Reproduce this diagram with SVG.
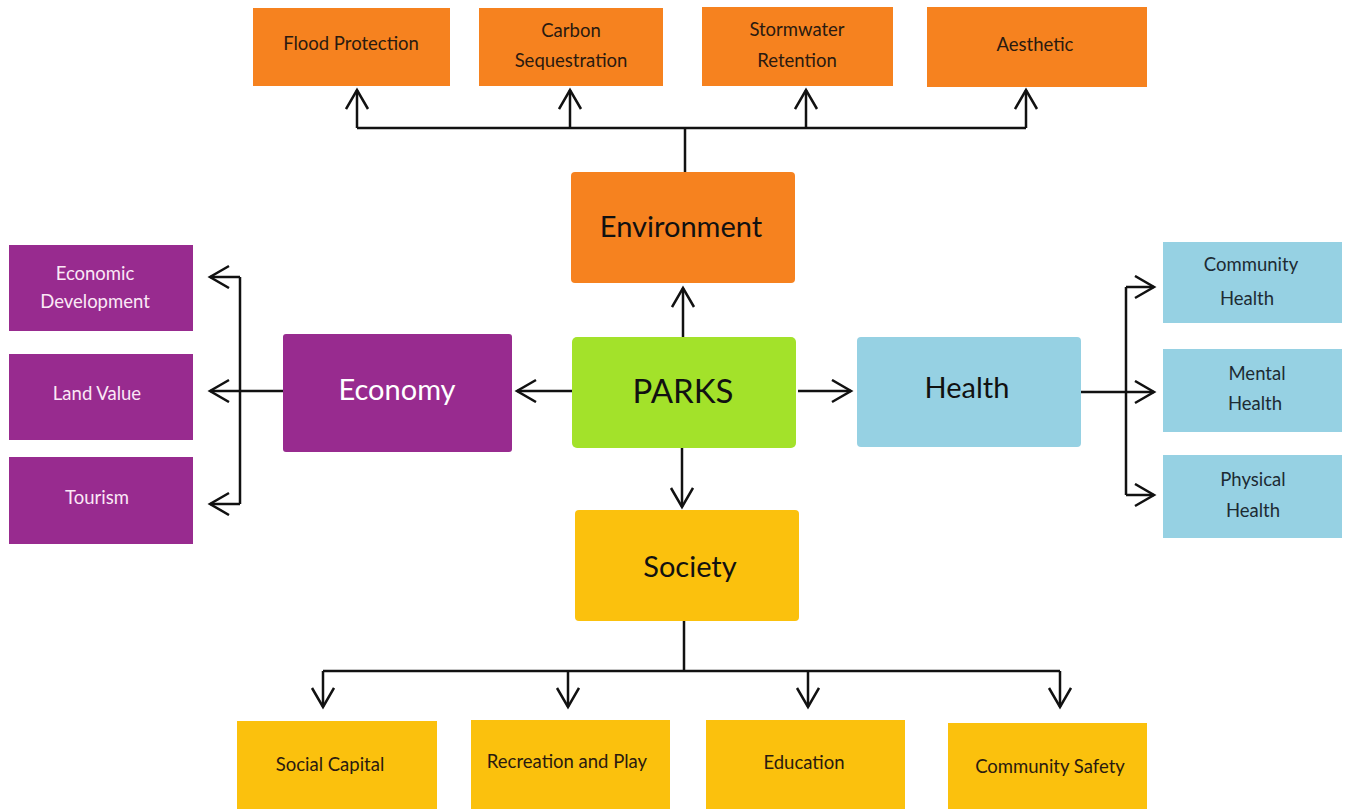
<svg xmlns="http://www.w3.org/2000/svg" width="1351" height="809" viewBox="0 0 1351 809">
<defs>
<marker id="arr" markerUnits="userSpaceOnUse" markerWidth="24" markerHeight="26" refX="20" refY="12" orient="auto">
<path d="M1,1 L20,12 L1,23" fill="none" stroke="#111" stroke-width="2.5"/>
</marker>
<style>
.env{fill:#F6821F}
.eco{fill:#982B8F}
.hea{fill:#96D1E3}
.soc{fill:#FBC10D}
.prk{fill:#A3E22A}
text{font-family:"Lato","Open Sans","Liberation Sans",sans-serif;text-anchor:middle}
.s{font-size:18.5px;fill:#2a1a10}
.w{font-size:18.5px;fill:#fbe8f6}
.d{font-size:18.5px;fill:#1d2b33}
.big{font-size:29px;fill:#111}
.bigw{font-size:29px;fill:#fff}
.line{fill:none;stroke:#111;stroke-width:2.5}
</style>
</defs>
<rect width="1351" height="809" fill="#fff"/>
<g id="connectors">
<path class="line" d="M685,172 V128 M357,128 H1026"/>
<path class="line" d="M357,128 V90" marker-end="url(#arr)"/>
<path class="line" d="M570,128 V90" marker-end="url(#arr)"/>
<path class="line" d="M806,128 V90" marker-end="url(#arr)"/>
<path class="line" d="M1026,128 V90" marker-end="url(#arr)"/>
<path class="line" d="M683,337 V288" marker-end="url(#arr)"/>
<path class="line" d="M682,448 V507" marker-end="url(#arr)"/>
<path class="line" d="M798,391 H851" marker-end="url(#arr)"/>
<path class="line" d="M572,391 H517" marker-end="url(#arr)"/>
<path class="line" d="M283,391 H240 M240,277 V504"/>
<path class="line" d="M240,277 H210" marker-end="url(#arr)"/>
<path class="line" d="M240,391 H210" marker-end="url(#arr)"/>
<path class="line" d="M240,504 H210" marker-end="url(#arr)"/>
<path class="line" d="M1081,392 H1126 M1126,287 V495"/>
<path class="line" d="M1126,287 H1154" marker-end="url(#arr)"/>
<path class="line" d="M1126,392 H1154" marker-end="url(#arr)"/>
<path class="line" d="M1126,495 H1154" marker-end="url(#arr)"/>
<path class="line" d="M684,621 V671 M323,671 H1060"/>
<path class="line" d="M323,671 V707" marker-end="url(#arr)"/>
<path class="line" d="M568,671 V707" marker-end="url(#arr)"/>
<path class="line" d="M808,671 V707" marker-end="url(#arr)"/>
<path class="line" d="M1060,671 V707" marker-end="url(#arr)"/>
</g>
<g id="flood"><rect class="env" x="253" y="8" width="197" height="78"/><text class="s" x="351" y="50">Flood Protection</text></g>
<g id="carbon"><rect class="env" x="479" y="8" width="184" height="78"/><text class="s" x="571" y="37">Carbon</text><text class="s" x="571" y="67">Sequestration</text></g>
<g id="stormwater"><rect class="env" x="702" y="7" width="191" height="79"/><text class="s" x="797" y="36">Stormwater</text><text class="s" x="797" y="67">Retention</text></g>
<g id="aesthetic"><rect class="env" x="927" y="7" width="220" height="80"/><text class="s" x="1035" y="51">Aesthetic</text></g>
<g id="environment"><rect class="env" x="571" y="172" width="224" height="111" rx="4"/><text class="big" x="681" y="237">Environment</text></g>
<g id="parks"><rect class="prk" x="572" y="337" width="224" height="111" rx="5"/><text class="big" x="683" y="403" style="font-size:33px">PARKS</text></g>
<g id="economy"><rect class="eco" x="283" y="334" width="229" height="118" rx="3"/><text class="bigw" x="397" y="400">Economy</text></g>
<g id="health"><rect class="hea" x="857" y="337" width="224" height="110" rx="4"/><text class="big" x="967" y="398">Health</text></g>
<g id="society"><rect class="soc" x="575" y="510" width="224" height="111" rx="4"/><text class="big" x="690" y="577">Society</text></g>
<g id="econdev"><rect class="eco" x="9" y="245" width="184" height="86"/><text class="w" x="95" y="280">Economic</text><text class="w" x="95" y="308">Development</text></g>
<g id="landvalue"><rect class="eco" x="9" y="354" width="184" height="86"/><text class="w" x="97" y="400">Land Value</text></g>
<g id="tourism"><rect class="eco" x="9" y="457" width="184" height="87"/><text class="w" x="97" y="504">Tourism</text></g>
<g id="commhealth"><rect class="hea" x="1163" y="242" width="179" height="81"/><text class="d" x="1251" y="271">Community</text><text class="d" x="1247" y="305">Health</text></g>
<g id="mentalhealth"><rect class="hea" x="1163" y="349" width="179" height="83"/><text class="d" x="1257" y="380">Mental</text><text class="d" x="1255" y="410">Health</text></g>
<g id="physhealth"><rect class="hea" x="1163" y="455" width="179" height="83"/><text class="d" x="1253" y="486">Physical</text><text class="d" x="1253" y="517">Health</text></g>
<g id="social"><rect class="soc" x="237" y="721" width="200" height="88"/><text class="s" x="330" y="771">Social Capital</text></g>
<g id="recreation"><rect class="soc" x="471" y="720" width="199" height="89"/><text class="s" x="567" y="768">Recreation and Play</text></g>
<g id="education"><rect class="soc" x="706" y="720" width="199" height="89"/><text class="s" x="804" y="769">Education</text></g>
<g id="safety"><rect class="soc" x="948" y="723" width="199" height="86"/><text class="s" x="1050" y="773">Community Safety</text></g>
</svg>
